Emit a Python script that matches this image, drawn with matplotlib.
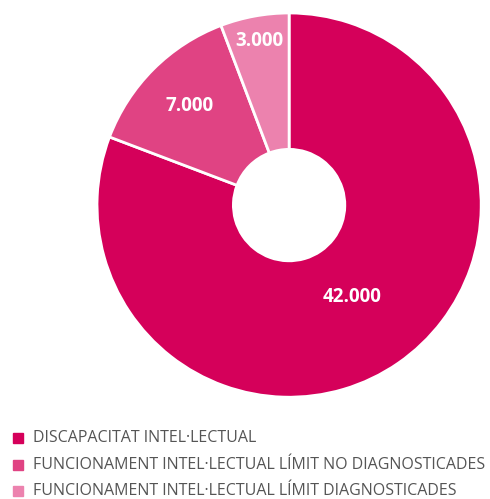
import numpy as np
import matplotlib.pyplot as plt

# data
labels = ['DISCAPACITAT INTEL·LECTUAL',
          'FUNCIONAMENT INTEL·LECTUAL LÍMIT NO DIAGNOSTICADES',
          'FUNCIONAMENT INTEL·LECTUAL LÍMIT DIAGNOSTICADES']
values = [42000, 7000, 3000]
value_text = ['42.000', '7.000', '3.000']
colors = ['#D5005A', '#E04383', '#EC82AE']
label_r = [0.58, 0.73, 0.87]

plt.rcParams['font.family'] = ['Open Sans', 'DejaVu Sans']

fig = plt.figure(figsize=(4.9, 4.99), dpi=100)
ax = fig.add_axes([0.198, 0.204, 0.784, 0.770])

wedges, _ = ax.pie(values, colors=colors, startangle=90, counterclock=False,
                   radius=1.0, wedgeprops=dict(width=0.71, edgecolor='white', linewidth=2))
ax.set_xlim(-1, 1)
ax.set_ylim(-1, 1)
ax.set_aspect('auto')

# value labels inside the slices
for w, txt, r in zip(wedges, value_text, label_r):
    ang = np.deg2rad((w.theta1 + w.theta2) / 2)
    ax.text(r * np.cos(ang), r * np.sin(ang), txt, ha='center', va='center',
            color='white', fontsize=13.5, fontweight='bold')

# legend at the bottom
ys = [438, 465, 491]
for lab, c, y in zip(labels, colors, ys):
    yf = 1 - y / 499
    fig.patches.append(plt.Rectangle((13 / 490, yf - 5 / 499), 10 / 490, 10 / 499,
                                     transform=fig.transFigure, color=c))
    fig.text(33 / 490, yf, lab, ha='left', va='center', color='#555555', fontsize=11.5)

fig.savefig('out.png', dpi=100)
